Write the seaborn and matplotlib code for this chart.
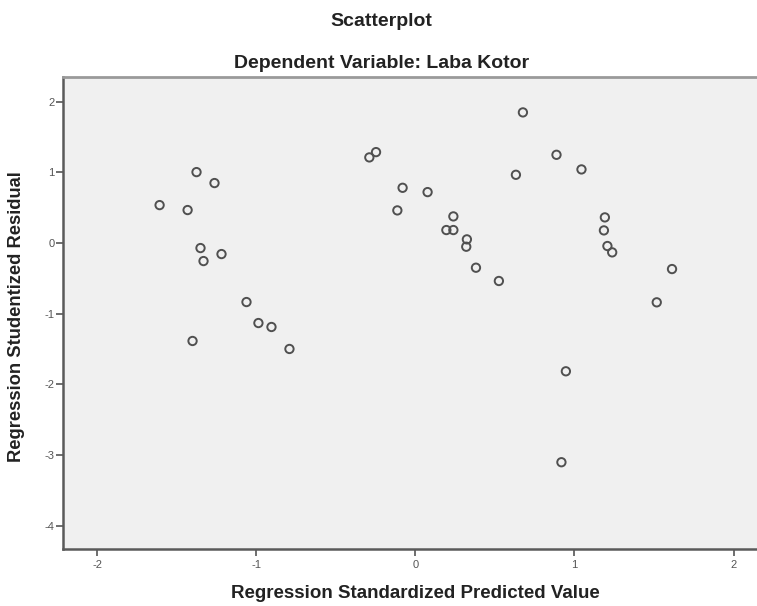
import matplotlib
matplotlib.use("Agg")
import matplotlib.pyplot as plt
import seaborn as sns
import pandas as pd

# SPSS residual plot: standardized predicted vs studentized residual
pred = [-1.607, -1.431, -1.375, -1.262, -1.350, -1.331, -1.218, -1.400,
        -1.061, -0.986, -0.904, -0.791,
        -0.289, -0.247, -0.080, 0.077, -0.113, 0.239, 0.195, 0.239,
        0.324, 0.320, 0.381, 0.525, 0.632, 0.676,
        0.887, 1.044, 1.191, 1.185, 1.207, 1.237, 1.613, 1.517,
        0.946, 0.918]
resid = [0.537, 0.467, 1.004, 0.849, -0.071, -0.255, -0.156, -1.386,
         -0.835, -1.132, -1.188, -1.499,
         1.212, 1.287, 0.782, 0.721, 0.462, 0.377, 0.184, 0.184,
         0.052, -0.052, -0.349, -0.537, 0.966, 1.849,
         1.249, 1.042, 0.363, 0.179, -0.042, -0.132, -0.368, -0.839,
         -1.815, -3.102]

x_ticks = [-2, -1, 0, 1, 2]
y_ticks = [-4, -3, -2, -1, 0, 1, 2]

df = pd.DataFrame({"pred": pred, "resid": resid})

sns.set_style("white")
plt.rcParams["font.family"] = ["Liberation Sans", "DejaVu Sans"]

fig = plt.figure(figsize=(7.57, 6.06), dpi=100)
ax = fig.add_axes([63 / 757, 1 - 549 / 606, 1 - 63 / 757, (549 - 77) / 606])
ax.set_facecolor("#F0F0F0")

sns.scatterplot(data=df, x="pred", y="resid", ax=ax, marker="o",
                s=36, facecolor="none", edgecolor="#505050", linewidth=1.4)

ax.set_xlim(-2.214, 2.147)
ax.set_ylim(-4.33, 2.35)
ax.set_xticks(x_ticks)
ax.set_yticks(y_ticks)
ax.set_xticklabels([str(t) for t in x_ticks])
ax.set_yticklabels([str(t) for t in y_ticks])
ax.tick_params(axis="both", direction="out", length=5, width=1.2,
               colors="#555555", labelsize=8, bottom=True, left=True)
ax.tick_params(axis="x", pad=3)
ax.tick_params(axis="y", pad=1)
ax.set_xlabel("")
ax.set_ylabel("")

for side in ["left", "bottom"]:
    ax.spines[side].set_color("#5a5a5a")
    ax.spines[side].set_linewidth(1.8)
ax.spines["top"].set_color("#9a9a9a")
ax.spines["top"].set_linewidth(2)
ax.spines["right"].set_visible(False)

fig.text(0.5035, 1 - 22 / 606, "Scatterplot", ha="center", va="center",
         fontsize=14, fontweight="bold", color="#222222")
fig.text(0.5035, 1 - 63 / 606, "Dependent Variable: Laba Kotor", ha="center",
         va="center", fontsize=14, fontweight="bold", color="#222222")
fig.text(415 / 757, 1 - 594 / 606, "Regression Standardized Predicted Value",
         ha="center", va="center", fontsize=13.5, fontweight="bold",
         color="#222222")
fig.text(17 / 757, 1 - 317 / 606, "Regression Studentized Residual",
         ha="center", va="center", rotation=90, fontsize=13.2,
         fontweight="bold", color="#222222")

fig.savefig("out.png", dpi=100, facecolor="white")
